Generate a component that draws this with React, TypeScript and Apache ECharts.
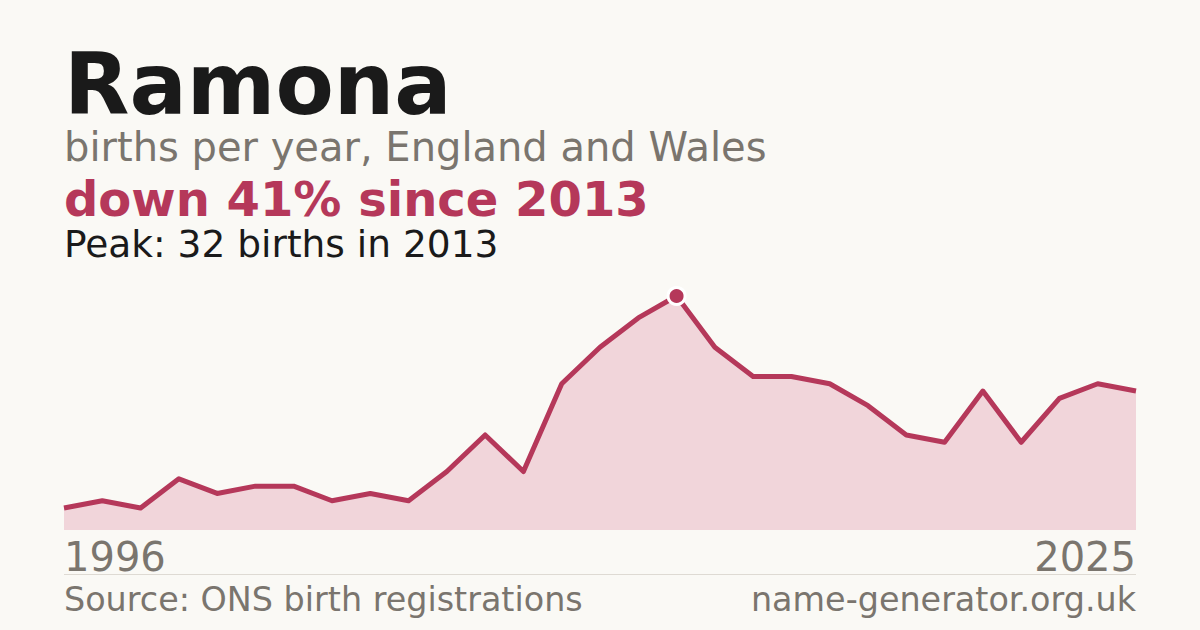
import React, { useEffect, useRef } from "react";
import * as echarts from "echarts";

// 1997 is missing from the registrations (fewer than 3 births)
const years = [
    "1996", "1998", "1999", "2000", "2001", "2002", "2003", "2004", "2005", "2006",
    "2007", "2008", "2009", "2010", "2011", "2012", "2013", "2014", "2015", "2016",
    "2017", "2018", "2019", "2020", "2021", "2022", "2023", "2024", "2025",
];
const births = [
    3, 4, 3, 7, 5, 6, 6, 4, 5, 4,
    8, 13, 8, 20, 25, 29, 32, 25, 21, 21,
    20, 17, 13, 12, 19, 12, 18, 20, 19,
];

const nameText = "Ramona";
const subtitleText = "births per year, England and Wales";
const changeText = "down 41% since 2013";
const peakText = "Peak: 32 births in 2013";
const sourceText = "Source: ONS birth registrations";
const siteText = "name-generator.org.uk";

const FONT = "'DejaVu Sans', sans-serif";
const RED = "#b5385a";
const GREY = "#7a756e";

const App: React.FC = () => {
    const chartRef = useRef<HTMLDivElement>(null);

    useEffect(() => {
        if (!chartRef.current) return;
        const chart = echarts.init(chartRef.current, undefined, { renderer: "svg" });

        const peakIdx = births.indexOf(Math.max(...births));

        const options = {
            animation: false,
            backgroundColor: "#faf9f5",
            textStyle: { fontFamily: FONT },
            grid: { left: 64, right: 64, top: 296, bottom: 100 },
            xAxis: {
                type: "category",
                data: years,
                boundaryGap: false,
                axisLine: { show: false },
                axisTick: { show: false },
                axisLabel: {
                    interval: (i: number) => i === 0 || i === years.length - 1,
                    alignMinLabel: "left",
                    alignMaxLabel: "right",
                    fontSize: 40,
                    color: GREY,
                    fontFamily: FONT,
                    margin: 7,
                },
            },
            yAxis: {
                type: "value",
                min: 0,
                max: 32,
                show: false,
                splitLine: { show: false },
            },
            series: [
                {
                    type: "line",
                    data: births,
                    symbol: "none",
                    lineStyle: { color: RED, width: 5, join: "round" },
                    areaStyle: { color: "#f1d5da", opacity: 1 },
                    z: 2,
                },
                {
                    type: "scatter",
                    data: [[years[peakIdx], births[peakIdx]]],
                    symbol: "circle",
                    symbolSize: 17,
                    itemStyle: { color: RED, borderColor: "#ffffff", borderWidth: 3, opacity: 1 },
                    z: 3,
                },
            ],
            graphic: [
                {
                    type: "text",
                    left: 64,
                    top: 42,
                    style: { text: nameText, font: `bold 85px ${FONT}`, fill: "#1a1a1a" },
                },
                {
                    type: "text",
                    left: 64,
                    top: 127,
                    style: { text: subtitleText, font: `40px ${FONT}`, fill: GREY },
                },
                {
                    type: "text",
                    left: 64,
                    top: 175,
                    style: { text: changeText, font: `bold 48px ${FONT}`, fill: RED },
                },
                {
                    type: "text",
                    left: 64,
                    top: 225,
                    style: { text: peakText, font: `37.5px ${FONT}`, fill: "#1a1a1a" },
                },
                {
                    type: "line",
                    shape: { x1: 64, y1: 574.5, x2: 1136, y2: 574.5 },
                    style: { stroke: "#dedad3", lineWidth: 1 },
                },
                {
                    type: "text",
                    left: 64,
                    top: 583,
                    style: { text: sourceText, font: `33.4px ${FONT}`, fill: GREY },
                },
                {
                    type: "text",
                    right: 64,
                    top: 583,
                    style: { text: siteText, font: `33.4px ${FONT}`, fill: GREY },
                },
            ],
        };

        chart.setOption(options);

        return () => {
            chart.dispose();
        };
    }, []);

    return (
        <div
            ref={chartRef}
            style={{ position: "fixed", left: 0, top: 0, width: "1200px", height: "630px" }}
        />
    );
};

export default App;
